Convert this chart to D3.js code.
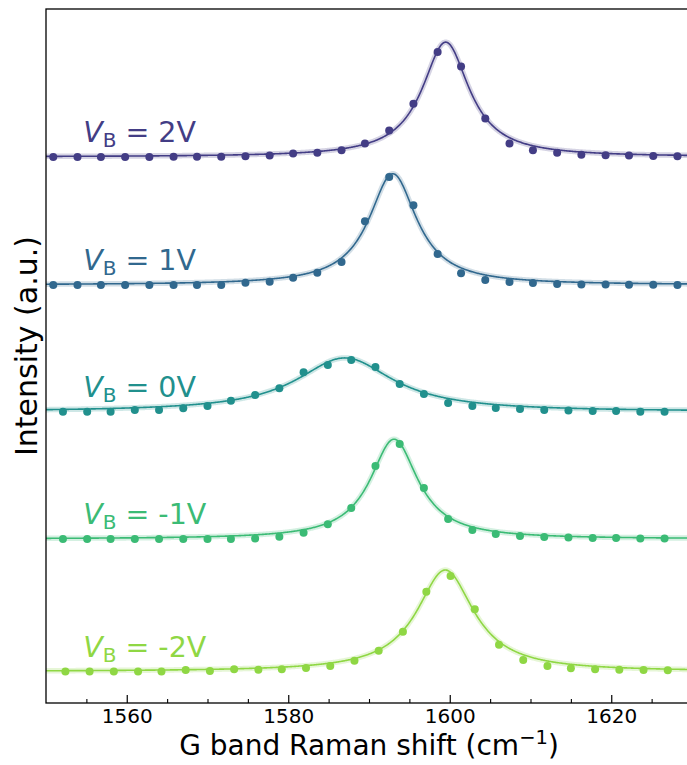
<!DOCTYPE html>
<html>
<head>
<meta charset="utf-8">
<script src="https://cdn.jsdelivr.net/npm/d3@7"></script>
<style>
  body { margin: 0; background: #fff; }
  text { font-family: "DejaVu Sans", sans-serif; }
</style>
</head>
<body>
<svg id="chart" width="687" height="765"></svg>
<script>
// Raman shift of each measured point (cm^-1); the spectra were taken on three grids
const shiftA = [1550.9, 1553.9, 1556.8, 1559.8, 1562.8, 1565.8, 1568.7, 1571.7, 1574.7, 1577.7,
                1580.6, 1583.6, 1586.6, 1589.5, 1592.5, 1595.5, 1598.5, 1601.4, 1604.4, 1607.4,
                1610.3, 1613.3, 1616.3, 1619.3, 1622.2, 1625.2, 1628.2];
const shiftB = [1552.1, 1555.1, 1558.0, 1561.0, 1564.0, 1567.0, 1570.0, 1572.9, 1575.9, 1578.9,
                1581.9, 1584.9, 1587.8, 1590.8, 1593.8, 1596.8, 1599.8, 1602.8, 1605.7, 1608.7,
                1611.7, 1614.7, 1617.7, 1620.6, 1623.6, 1626.6];
const shiftC = [1552.4, 1555.4, 1558.4, 1561.4, 1564.3, 1567.3, 1570.3, 1573.3, 1576.3, 1579.2,
                1582.2, 1585.2, 1588.2, 1591.2, 1594.2, 1597.1, 1600.1, 1603.1, 1606.1, 1609.1,
                1612.1, 1615.0, 1618.0, 1621.0, 1624.0, 1627.0];

// Measured G band intensity (a.u., above each trace's own baseline)
const intP2 = [0, 0, 0, 0, 0, 0.002, 0.002, 0.002, 0.006, 0.012,
               0.027, 0.033, 0.053, 0.105, 0.206, 0.416, 0.821, 0.707, 0.300, 0.105,
               0.053, 0.033, 0.017, 0.014, 0.012, 0.008, 0.006];
const intP1 = [0, 0, 0, 0, 0, 0, 0, 0, 0.018, 0.026,
               0.057, 0.096, 0.179, 0.498, 0.843, 0.623, 0.241, 0.091, 0.039, 0.023,
               0.016, 0.008, 0.004, 0.004, 0.002, 0.002, 0];
const intZ0 = [0, 0, 0, 0.013, 0.013, 0.027, 0.045, 0.086, 0.130, 0.183,
               0.308, 0.365, 0.404, 0.349, 0.216, 0.138, 0.068, 0.045, 0.029, 0.021,
               0.013, 0.009, 0.005, 0.005, 0, 0];
const intM1 = [0, 0, 0, 0, 0, 0, 0, 0, 0.004, 0.018,
               0.049, 0.115, 0.242, 0.570, 0.742, 0.398, 0.156, 0.070, 0.039, 0.023,
               0.016, 0.012, 0.008, 0.008, 0.004, 0.004];
const intM2 = [0, 0, 0, 0, 0, 0.012, 0.004, 0.017, 0.014, 0.017,
               0.027, 0.043, 0.084, 0.163, 0.311, 0.623, 0.746, 0.486, 0.209, 0.090,
               0.043, 0.025, 0.017, 0.014, 0.012, 0.009];

// Lorentzian fit of each spectrum: centre (cm^-1), half width (cm^-1), peak height (a.u.)
const fitCenter = [1599.5, 1592.95, 1587.0, 1593.1, 1599.45];
const fitHalfWidth = [3.55, 3.6, 7.3, 3.6, 4.3];
const fitHeight = [0.897, 0.869, 0.42, 0.78, 0.793];

// Vertical offset of each trace in the stack (a.u.)
const offsets = [4.02, 3.02, 2.03, 1.035, 0];
const gateLabels = ["2V", "1V", "0V", "-1V", "-2V"];
const colors = ["#433d85", "#31688e", "#21908d", "#3bbb75", "#8fd744"];

const majorTicks = [1560, 1580, 1600, 1620];
const minorTicks = [1555, 1565, 1570, 1575, 1585, 1590, 1595, 1605, 1610, 1615, 1625];

const traces = [
  { shift: shiftA, inten: intP2 },
  { shift: shiftA, inten: intP1 },
  { shift: shiftB, inten: intZ0 },
  { shift: shiftB, inten: intM1 },
  { shift: shiftC, inten: intM2 }
];

const plotLeft = 46, plotRight = 692, plotTop = 9, plotBottom = 703;
const svg = d3.select("#chart");

const x = d3.scaleLinear().domain([1550, 1630]).range([plotLeft, plotRight]);
const y = d3.scaleLinear().domain([-0.246, 5.176]).range([plotBottom, plotTop]);

svg.append("defs").append("clipPath").attr("id", "plotClip")
  .append("rect").attr("x", plotLeft).attr("y", plotTop)
  .attr("width", plotRight - plotLeft).attr("height", plotBottom - plotTop);

const plot = svg.append("g").attr("clip-path", "url(#plotClip)");

const fitGrid = d3.range(1550, 1630.001, 0.1);
const lorentz = (i, s) => fitHeight[i] / (1 + Math.pow((s - fitCenter[i]) / fitHalfWidth[i], 2));

traces.forEach((t, i) => {
  const g = plot.append("g");
  const line = d3.line()
    .x(s => x(s))
    .y(s => y(offsets[i] + lorentz(i, s)));
  // soft band under the fit
  g.append("path").attr("d", line(fitGrid))
    .attr("fill", "none").attr("stroke", colors[i])
    .attr("stroke-width", 5.5).attr("stroke-opacity", 0.22)
    .attr("stroke-linejoin", "round");
  // fit curve
  g.append("path").attr("d", line(fitGrid))
    .attr("fill", "none").attr("stroke", colors[i])
    .attr("stroke-width", 1.6).attr("stroke-linejoin", "round");
  // measured points
  g.selectAll("circle").data(t.shift).join("circle")
    .attr("cx", s => x(s))
    .attr("cy", (s, k) => y(offsets[i] + t.inten[k]))
    .attr("r", 4)
    .attr("fill", colors[i]);
});

// trace labels
traces.forEach((t, i) => {
  const txt = svg.append("text")
    .attr("x", x(1554.6))
    .attr("y", y(offsets[i]) - 15)
    .attr("fill", colors[i])
    .attr("font-size", 28.5);
  txt.append("tspan").attr("font-style", "italic").text("V");
  txt.append("tspan").attr("font-size", 20).attr("dy", 5).text("B");
  txt.append("tspan").attr("dy", -5).text("\u00a0=\u00a0" + gateLabels[i]);
});

// x axis with inward ticks
const xAxis = svg.append("g").attr("transform", `translate(0,${plotBottom})`)
  .call(d3.axisBottom(x).tickValues(majorTicks).tickFormat(d3.format("d"))
    .tickSizeInner(-8).tickSizeOuter(0).tickPadding(6));
xAxis.select(".domain").remove();
xAxis.selectAll(".tick line").attr("stroke", "#000").attr("stroke-width", 1.2);
xAxis.selectAll(".tick text").attr("font-size", 20).attr("fill", "#000")
  .attr("font-family", "DejaVu Sans");

const xMinor = svg.append("g").attr("transform", `translate(0,${plotBottom})`)
  .call(d3.axisBottom(x).tickValues(minorTicks).tickFormat("")
    .tickSizeInner(-4).tickSizeOuter(0));
xMinor.select(".domain").remove();
xMinor.selectAll(".tick line").attr("stroke", "#000").attr("stroke-width", 1.1);

// frame
svg.append("rect")
  .attr("x", plotLeft).attr("y", plotTop)
  .attr("width", plotRight - plotLeft).attr("height", plotBottom - plotTop)
  .attr("fill", "none").attr("stroke", "#000").attr("stroke-width", 1.3);

// axis titles
const xt = svg.append("text")
  .attr("x", 0).attr("y", 755)
  .attr("font-size", 28).attr("fill", "#000");
xt.append("tspan").text("G band Raman shift (cm");
xt.append("tspan").attr("font-size", 19.5).attr("dy", -11).text("\u22121");
xt.append("tspan").attr("dy", 11).text(")");
const xtWidth = xt.node().getComputedTextLength();
xt.attr("x", (plotLeft + plotRight) / 2 - xtWidth / 2);

svg.append("text")
  .attr("transform", `translate(37,346) rotate(-90)`)
  .attr("text-anchor", "middle").attr("font-size", 30).attr("fill", "#000")
  .text("Intensity (a.u.)");
</script>
</body>
</html>
